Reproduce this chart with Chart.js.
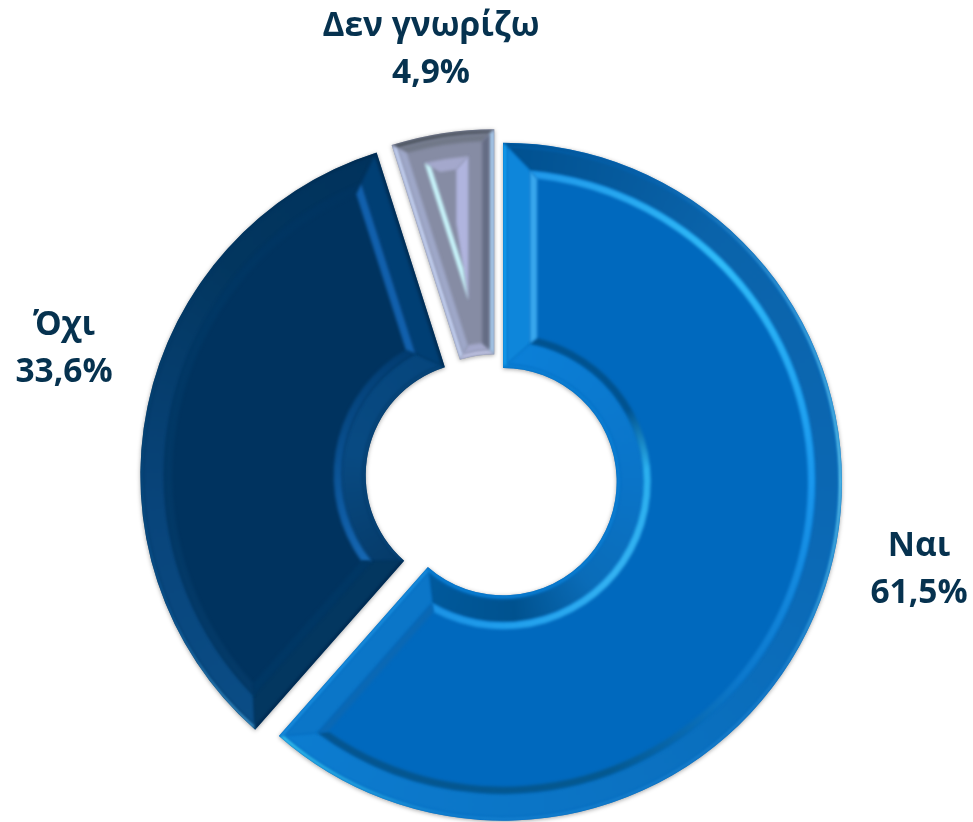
<!DOCTYPE html>
<html>
<head>
<meta charset="utf-8">
<title>Chart</title>
<script src="https://cdn.jsdelivr.net/npm/chart.js@4"></script>
<style>
  html, body { margin: 0; padding: 0; background: #fff; }
  canvas { display: block; }
</style>
</head>
<body>
<canvas id="donut" width="973" height="822"></canvas>
<script>
const categories = ['Ναι', 'Όχι', 'Δεν γνωρίζω'];
const values = [61.5, 33.6, 4.9];
const sliceColors = ['#0069BE', '#00335F', '#868CA4'];

// how far each slice is pulled out, and where its label sits
const explode = [7.5, 17, 11];
const labelSpots = [[919, 546], [64, 325], [431, 26]];
const LINE_GAP = 47;

// bevel bands per slice, stops are [degrees clockwise from top, colour]
const bevels = [
  [
    { from: 0, to: 4,
      outer: [[0, '#004f8d'], [25, '#0a5fa6'], [60, '#3a9edc'], [90, '#5cc4ec'], [125, '#1b7cc8'], [190, '#1280d0'], [221, '#35c4f0']],
      inner: '#0b7fd4', start: '#14a0f0', end: '#1a8fe0' },
    { from: 4, to: 27,
      outer: [[0, '#00508f'], [40, '#0a63aa'], [90, '#0b67b2'], [140, '#0a6fbe'], [221, '#0c7cd0']],
      inner: [[0, '#0b80d8'], [90, '#0a74c8'], [140, '#0a6cb8'], [175, '#00528f'], [221, '#005a9e']],
      start: '#0e86da', end: '#0b76c8' },
    { from: 27, to: 34,
      outer: [[0, '#1e94e8'], [45, '#30bcf8'], [90, '#1a98ee'], [130, '#0c78cc'], [160, '#04588f'], [221, '#04548f']],
      inner: [[0, '#00528f'], [60, '#00528f'], [85, '#2bb0ee'], [130, '#34b2f2'], [180, '#1f9eec'], [221, '#1a8ee2']],
      start: '#38a6ec', end: '#0a68b4' }
  ],
  [
    { from: 0, to: 3,
      outer: [[221, '#4aaee8'], [245, '#0e5fa0'], [290, '#04406f'], [342, '#00294c']],
      inner: '#0a4a80', start: '#00294e', end: '#002c52' },
    { from: 3, to: 24,
      outer: [[221, '#0a4d86'], [265, '#08447a'], [310, '#02365f'], [342, '#00325c']],
      inner: [[221, '#053a68'], [280, '#084a82'], [342, '#05457c']],
      start: '#033760', end: '#003f74' },
    { from: 24, to: 32,
      outer: [[221, '#043a68'], [300, '#003764'], [342, '#00335f']],
      inner: [[221, '#1a6ebc'], [255, '#0e5ba2'], [290, '#074a86'], [342, '#00386a']],
      start: '#003764', end: '#1160ac' }
  ],
  [
    { from: 0, to: 5,
      outer: [[342, '#4f5661'], [360, '#59606e']],
      inner: '#bbbfdf', start: '#c0cdee', end: '#a5c8ea' },
    { from: 5, to: 12,
      outer: '#717888',
      inner: '#a4a9cc', start: '#9ea7c8', end: '#646c84' },
    { from: 26, to: 38,
      outer: '#a4a8cc',
      end: '#b0b4de' },
    { from: 26, to: 31,
      start: '#c8f5fb' }
  ]
];

function edges(arc, d) {
  const half = (arc.endAngle - arc.startAngle) / 2;
  const R = arc.outerRadius - d;
  let r = arc.innerRadius + d;
  if (half < Math.PI / 2) r = Math.max(r, d / Math.sin(half));
  const so = Math.asin(d / R), si = Math.asin(d / r);
  return {
    R, r,
    s1: arc.startAngle + so, e1: arc.endAngle - so,
    s2: arc.startAngle + si, e2: arc.endAngle - si
  };
}

function paint(ctx, arc, spec) {
  if (typeof spec === 'string') return spec;
  const g = ctx.createConicGradient(-Math.PI / 2, arc.x, arc.y);
  spec.forEach(s => g.addColorStop(s[0] / 360, s[1]));
  return g;
}

function fillBand(ctx, arc, a, b, side, spec) {
  if (!spec) return;
  const pt = (rad, ang) => [arc.x + rad * Math.cos(ang), arc.y + rad * Math.sin(ang)];
  ctx.beginPath();
  if (side === 'outer') {
    ctx.arc(arc.x, arc.y, a.R, a.s1, a.e1);
    ctx.arc(arc.x, arc.y, b.R, b.e1, b.s1, true);
  } else if (side === 'inner') {
    ctx.arc(arc.x, arc.y, a.r, a.s2, a.e2);
    ctx.arc(arc.x, arc.y, b.r, b.e2, b.s2, true);
  } else {
    const o1 = side === 'start' ? a.s1 : a.e1, o2 = side === 'start' ? b.s1 : b.e1;
    const i1 = side === 'start' ? a.s2 : a.e2, i2 = side === 'start' ? b.s2 : b.e2;
    ctx.moveTo(...pt(a.R, o1));
    ctx.lineTo(...pt(b.R, o2));
    ctx.lineTo(...pt(b.r, i2));
    ctx.lineTo(...pt(a.r, i1));
  }
  ctx.closePath();
  ctx.fillStyle = paint(ctx, arc, spec);
  ctx.fill();
}

const bevelPlugin = {
  id: 'bevel',
  afterDatasetUpdate(chart) {
    chart.getDatasetMeta(0).data.forEach((arc, i) => {
      const mid = (arc.startAngle + arc.endAngle) / 2;
      arc.x += Math.cos(mid) * explode[i];
      arc.y += Math.sin(mid) * explode[i];
    });
  },
  beforeDatasetDraw(chart) {
    const ctx = chart.ctx;
    ctx.save();
    ctx.shadowColor = 'rgba(0,0,0,0.35)';
    ctx.shadowBlur = 4;
    ctx.shadowOffsetY = 1;
  },
  afterDatasetDraw(chart) {
    const ctx = chart.ctx;
    ctx.restore();
    chart.getDatasetMeta(0).data.forEach((arc, i) => {
      ctx.save();
      const box = edges(arc, 0);
      ctx.beginPath();
      ctx.arc(arc.x, arc.y, box.R, box.s1, box.e1);
      ctx.arc(arc.x, arc.y, box.r, box.e2, box.s2, true);
      ctx.closePath();
      ctx.clip();
      ctx.filter = 'blur(1.6px)';
      bevels[i].forEach(b => {
        const a = edges(arc, b.from), c = edges(arc, b.to);
        ['outer', 'inner', 'start', 'end'].forEach(side => fillBand(ctx, arc, a, c, side, b[side]));
      });
      ctx.restore();
    });
  },
  afterDraw(chart) {
    const ctx = chart.ctx;
    ctx.save();
    ctx.font = '700 33.5px "Open Sans"';
    ctx.fillStyle = '#06324F';
    ctx.textAlign = 'center';
    ctx.textBaseline = 'middle';
    categories.forEach((name, i) => {
      const [x, y] = labelSpots[i];
      ctx.fillText(name, x, y);
      ctx.fillText(values[i].toFixed(1).replace('.', ',') + '%', x, y + LINE_GAP);
    });
    ctx.restore();
  }
};

new Chart(document.getElementById('donut'), {
  type: 'doughnut',
  data: {
    labels: categories,
    datasets: [{
      data: values,
      backgroundColor: sliceColors,
      borderWidth: 0,
      clip: false
    }]
  },
  options: {
    responsive: false,
    animation: false,
    radius: 339,
    cutout: 115,
    layout: { padding: { left: 19, top: 136 } },
    plugins: { legend: { display: false }, tooltip: { enabled: false } }
  },
  plugins: [bevelPlugin]
});
</script>
</body>
</html>
